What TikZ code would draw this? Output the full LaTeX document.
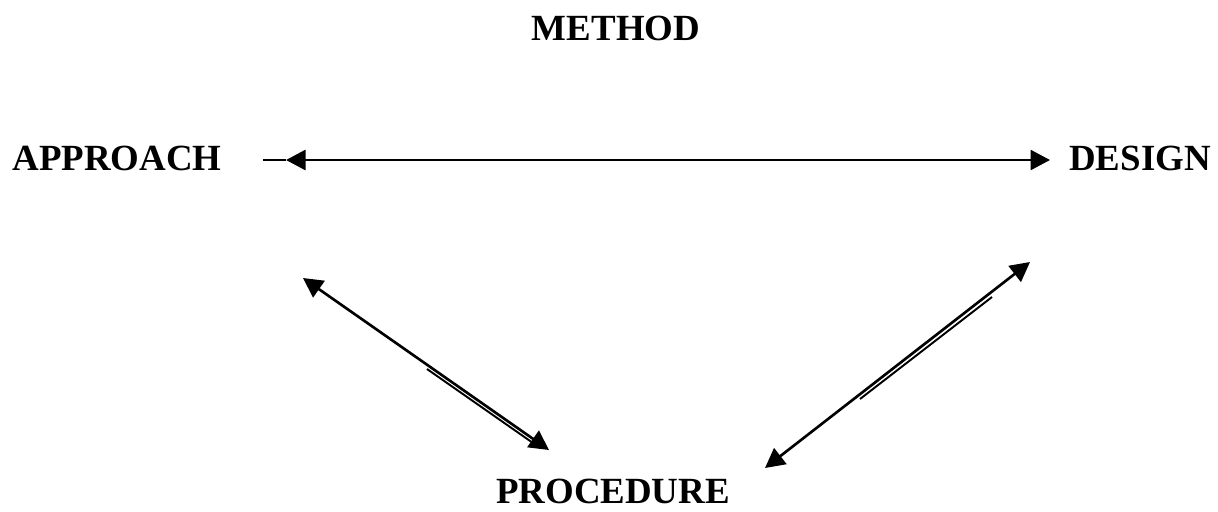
\documentclass[tikz,border=0pt]{standalone}
\usepackage{fontspec}
\setmainfont{Liberation Serif}
\usetikzlibrary{arrows.meta}

\begin{document}
\begin{tikzpicture}[x=0.2mm,y=-0.2mm]
				\tikzstyle{t}=[font=\fontsize{21}{25}\selectfont\bfseries, inner sep=0pt]
				\tikzstyle{l}=[line width=1.5pt]
				\tikzstyle{a}=[l, {Triangle[length=3.9mm,width=4mm]}-{Triangle[length=3.9mm,width=4mm]}]
				\useasboundingbox (0,0) rectangle (1218,511);

				\node[t] (method) at (616, 28) {METHOD};
				\node[t] (approach) at (117, 158) {APPROACH};
				\node[t] (design) at (1140, 158) {DESIGN};
				\node[t] (procedure) at (613, 491) {PROCEDURE};

				\coordinate (h0) at (263, 160);
				\coordinate (h1) at (286, 160);
				\coordinate (h2) at (1050, 160);
				\coordinate (l1) at (303, 278);
				\coordinate (l2) at (549, 450);
				\coordinate (r1) at (765, 468);
				\coordinate (r2) at (1030, 262);
				\coordinate (ll1) at (427, 369);
				\coordinate (ll2) at (533, 443);
				\coordinate (rr1) at (860, 399);
				\coordinate (rr2) at (992, 297);

				\foreach \from/\to in {h1/h2,l1/l2,r1/r2}
				\draw [a] (\from) -- (\to);
				\draw [l] (h0) -- (h1);
				\foreach \from/\to in {ll1/ll2,rr1/rr2}
				\draw [line width=1.1pt] (\from) -- (\to);
			\end{tikzpicture}
\end{document}
